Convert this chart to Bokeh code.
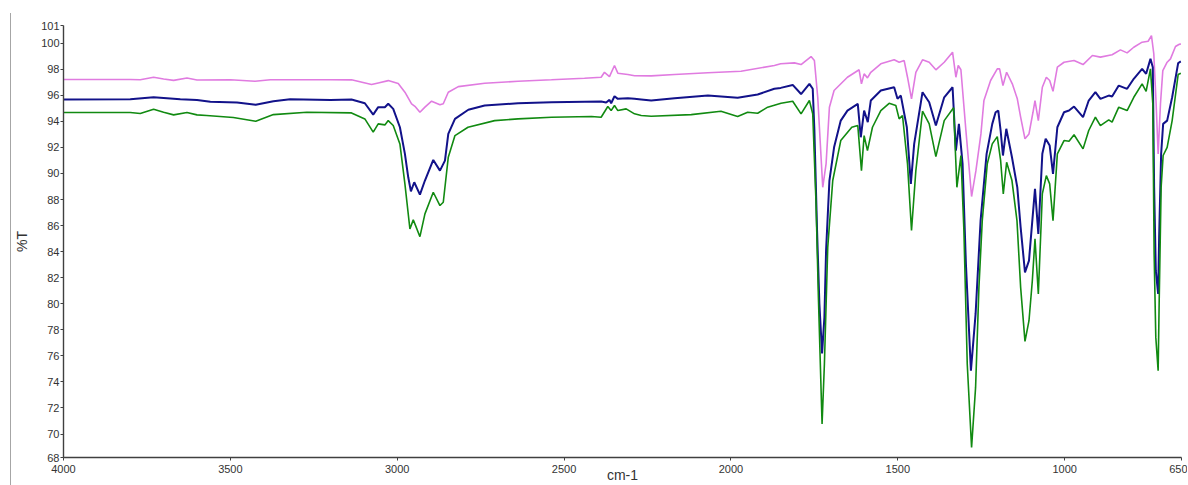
from bokeh.plotting import figure
from bokeh.models import Range1d, FixedTicker, CustomJSTickFormatter
from bokeh.embed import file_html
from bokeh.resources import INLINE

# ---- data (wavenumber cm-1, %T) ----
pink_wn = [4000, 3800, 3770, 3730, 3700, 3670, 3630, 3600, 3500, 3426, 3380, 3200, 3137, 3077, 3057, 3027,
           2997, 2977, 2957, 2947, 2932, 2917, 2897, 2872, 2862, 2847, 2817, 2738, 2638, 2538, 2439, 2389,
           2379, 2364, 2349, 2339, 2309, 2289, 2239, 2169, 2069, 1970, 1870, 1851, 1810, 1790, 1760, 1750,
           1740, 1725, 1715, 1705, 1691, 1651, 1616, 1609, 1601, 1591, 1581, 1551, 1511, 1496, 1481, 1471,
           1459, 1446, 1426, 1406, 1386, 1361, 1336, 1326, 1319, 1311, 1296, 1279, 1266, 1251, 1242, 1222,
           1202, 1195, 1185, 1174, 1157, 1142, 1132, 1119, 1107, 1095, 1089, 1079, 1067, 1055, 1045, 1035,
           1022, 1002, 972, 945, 917, 893, 858, 833, 813, 793, 768, 750, 740, 733, 726, 720, 713, 706, 693,
           683, 668, 658, 652]
pink_t = [97.21, 97.21, 97.2, 97.39, 97.25, 97.15, 97.33, 97.18, 97.2, 97.08, 97.2, 97.2, 97.19, 96.83, 96.95, 97.13,
          96.9, 96.24, 95.35, 95.16, 94.7, 95.09, 95.55, 95.27, 95.35, 96.24, 96.67, 96.93, 97.08, 97.19, 97.31, 97.39,
          97.77, 97.44, 98.29, 97.7, 97.6, 97.5, 97.49, 97.6, 97.73, 97.85, 98.29, 98.42, 98.49, 98.36, 98.98, 98.67,
          95.85, 88.94, 90.74, 95.09, 96.37, 97.39, 97.96, 96.88, 97.65, 97.34, 97.77, 98.42, 98.73, 98.54, 98.67, 97.39,
          95.73, 97.77, 98.73, 98.54, 97.96, 98.54, 99.31, 97.39, 98.29, 97.96, 93.3, 88.23, 90.22, 93.04, 95.6, 97.14,
          98.03, 98.03, 96.75, 97.77, 96.88, 95.73, 94.32, 92.66, 93.04, 94.7, 95.6, 94.06, 96.62, 97.39, 97.14, 96.31,
          98.16, 98.54, 98.67, 98.36, 99.06, 98.93, 99.11, 99.49, 99.26, 99.69, 100.08, 100.15, 100.59, 99.19, 95.35, 91.5, 95.35, 97.9, 98.54,
          98.8, 99.75, 99.9, 99.95]

navy_wn = [4000, 3800, 3730, 3650, 3600, 3560, 3480, 3424, 3371, 3321, 3200, 3137, 3097, 3072, 3057, 3037,
           3027, 3012, 2992, 2977, 2967, 2959, 2949, 2932, 2917, 2892, 2872, 2857, 2847, 2827, 2787, 2738,
           2638, 2538, 2389, 2374, 2364, 2359, 2349, 2339, 2309, 2289, 2269, 2239, 2169, 2069, 1980, 1920,
           1870, 1851, 1815, 1790, 1765, 1755, 1750, 1742, 1735, 1727, 1720, 1715, 1705, 1691, 1671, 1651,
           1620, 1611, 1601, 1590, 1581, 1551, 1511, 1501, 1491, 1473, 1461, 1451, 1426, 1406, 1386, 1361,
           1336, 1326, 1317, 1306, 1296, 1281, 1267, 1252, 1234, 1217, 1207, 1199, 1192, 1185, 1175, 1158,
           1142, 1132, 1119, 1107, 1097, 1089, 1079, 1067, 1057, 1045, 1035, 1022, 1002, 987, 972, 945,
           928, 908, 893, 868, 858, 838, 813, 793, 768, 756, 743, 736, 732, 727, 720, 717, 711, 705,
           693, 678, 660, 652]
navy_t = [95.68, 95.7, 95.85, 95.7, 95.65, 95.5, 95.45, 95.27, 95.55, 95.7, 95.65, 95.68, 95.39, 94.52, 95.09, 95.09,
          95.35, 94.96, 93.55, 91.51, 89.71, 88.63, 89.33, 88.38, 89.46, 91.04, 90.22, 90.99, 93.04, 94.19, 94.89, 95.22,
          95.39, 95.47, 95.52, 95.45, 95.65, 95.39, 95.93, 95.73, 95.78, 95.73, 95.68, 95.6, 95.78, 95.98, 95.81, 96.06,
          96.5, 96.57, 96.8, 96.1, 96.88, 96.5, 93.3, 85.62, 79.98, 76.19, 78.96, 84.08, 89.46, 92.01, 94.06, 94.83,
          95.35, 92.78, 94.83, 93.94, 95.6, 96.37, 96.62, 95.73, 95.98, 93.55, 89.2, 92.27, 96.24, 95.47, 93.68, 95.85,
          96.62, 91.76, 93.81, 90.74, 83.06, 74.86, 79.22, 86.38, 91.51, 93.81, 94.7, 94.83, 93.3, 91.38, 93.43, 91.25,
          88.94, 85.87, 82.41, 83.31, 86.38, 88.82, 85.36, 91.51, 92.66, 92.14, 89.97, 93.55, 94.7, 94.83, 95.14, 94.32,
          95.6, 96.24, 95.73, 95.98, 95.91, 96.75, 96.5, 97.27, 98.03, 97.65, 98.8, 98.16, 88.94, 82.54, 80.75, 85.1, 91.51, 93.81,
          94.06, 95.85, 98.47, 98.6]

green_wn = [4000, 3800, 3770, 3730, 3700, 3670, 3630, 3600, 3571, 3491, 3424, 3371, 3271, 3137, 3097, 3072,
            3057, 3037, 3027, 3012, 2992, 2977, 2962, 2952, 2945, 2932, 2917, 2892, 2872, 2862, 2847, 2827,
            2788, 2708, 2638, 2538, 2418, 2389, 2369, 2359, 2349, 2339, 2314, 2289, 2269, 2239, 2119, 2030,
            1980, 1950, 1920, 1890, 1850, 1815, 1790, 1765, 1755, 1745, 1738, 1727, 1720, 1710, 1695, 1671,
            1638, 1620, 1609, 1601, 1591, 1576, 1551, 1526, 1506, 1496, 1486, 1471, 1459, 1446, 1426, 1406,
            1386, 1361, 1333, 1323, 1311, 1302, 1292, 1279, 1267, 1257, 1247, 1232, 1217, 1202, 1192, 1184,
            1174, 1158, 1143, 1132, 1119, 1107, 1097, 1089, 1079, 1067, 1055, 1045, 1035, 1022, 1002, 987,
            972, 945, 928, 908, 893, 868, 858, 838, 813, 793, 768, 756, 743, 736, 732, 727, 720, 717,
            711, 705, 693, 678, 660, 652]
green_t = [94.68, 94.68, 94.6, 94.93, 94.7, 94.5, 94.68, 94.5, 94.45, 94.3, 94.01, 94.52, 94.7, 94.65, 94.19, 93.17,
           93.81, 93.73, 94.06, 93.68, 92.27, 89.2, 85.74, 86.44, 86.0, 85.15, 86.9, 88.56, 87.54, 87.79, 91.25, 92.91,
           93.55, 94.06, 94.19, 94.32, 94.37, 94.32, 95.14, 94.83, 95.22, 94.83, 94.96, 94.58, 94.45, 94.39, 94.52, 94.78,
           94.37, 94.7, 94.62, 95.09, 95.39, 95.55, 94.58, 95.6, 94.58, 87.66, 80.49, 70.77, 75.38, 84.33, 89.46, 92.53,
           93.55, 93.68, 90.22, 92.91, 91.76, 93.55, 94.83, 95.39, 95.22, 94.19, 94.45, 90.74, 85.62, 90.22, 94.78, 93.81,
           91.3, 94.06, 95.04, 88.94, 91.38, 85.62, 75.38, 68.97, 73.58, 81.26, 86.38, 90.74, 92.27, 92.83, 91.0, 88.43,
           90.86, 89.46, 86.38, 81.26, 77.11, 78.7, 81.77, 84.98, 80.75, 88.43, 89.84, 89.2, 86.38, 91.51, 92.53, 92.48,
           92.97, 91.89, 93.3, 94.32, 93.68, 94.12, 93.94, 95.09, 94.83, 95.85, 96.88, 96.31, 98.03, 95.35, 83.83, 77.42, 74.86, 79.98,
           88.94, 91.38, 92.01, 94.06, 97.6, 97.7]

x_ticks = [4000, 3500, 3000, 2500, 2000, 1500, 1000, 650]
y_min, y_max = 68.2, 101.36
y_ticks = [y_min] + list(range(70, 101, 2)) + [101.36]

FONT = "Liberation Sans"
TXT = "#333333"

p = figure(width=1177, height=472, output_backend="svg", toolbar_location=None,
           x_range=Range1d(4000, 650), y_range=Range1d(y_min, y_max),
           min_border_left=51, min_border_right=7, min_border_top=12, min_border_bottom=28,
           margin=(13, 0, 0, 10), styles={"border-left": "1px solid #a6a6a6"})
p.outline_line_color = None
p.xgrid.grid_line_color = None
p.ygrid.grid_line_color = None

p.line(pink_wn, pink_t, line_color="#e07be0", line_width=1.6)
p.line(navy_wn, navy_t, line_color="#12128a", line_width=2.0)
p.line(green_wn, green_t, line_color="#118a11", line_width=1.6)

for ax in (p.xaxis[0], p.yaxis[0]):
    ax.axis_line_color = "#404040"
    ax.axis_line_width = 1.4
    ax.major_tick_line_color = "#404040"
    ax.major_tick_out = 3
    ax.major_tick_in = 0
    ax.minor_tick_line_color = None
    ax.major_label_text_font = FONT
    ax.major_label_text_font_size = "11px"
    ax.major_label_text_color = TXT
    ax.major_label_standoff = 1
    ax.axis_label_text_font = FONT
    ax.axis_label_text_font_size = "14px"
    ax.axis_label_text_font_style = "normal"
    ax.axis_label_text_color = TXT

p.xaxis.ticker = FixedTicker(ticks=x_ticks)
p.yaxis.ticker = FixedTicker(ticks=y_ticks)
p.yaxis.formatter = CustomJSTickFormatter(code="return Math.round(tick).toString();")
p.xaxis.major_label_standoff = 4
p.xaxis.axis_label = "cm-1"
p.xaxis.axis_label_standoff = -9
p.yaxis.axis_label = "%T"
p.yaxis.axis_label_standoff = 8

open("out.html", "w").write(file_html(p, INLINE))
